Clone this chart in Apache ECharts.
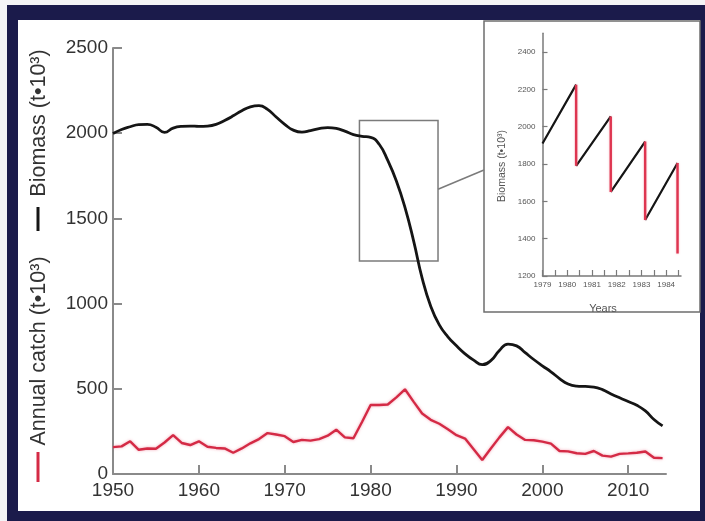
<!DOCTYPE html>
<html><head><meta charset="utf-8">
<script src="https://cdn.jsdelivr.net/npm/echarts@6/dist/echarts.min.js"></script>
<style>html,body{margin:0;padding:0;background:#fff}#c{width:705px;height:521px}</style>
</head><body><div id="c"></div>
<script>
// ---- data ----
const years = [1950,1951,1952,1953,1954,1955,1956,1957,1958,1959,1960,1961,1962,1963,1964,1965,1966,1967,1968,1969,1970,1971,1972,1973,1974,1975,1976,1977,1978,1979,1980,1981,1982,1983,1984,1985,1986,1987,1988,1989,1990,1991,1992,1993,1994,1995,1996,1997,1998,1999,2000,2001,2002,2003,2004,2005,2006,2007,2008,2009,2010,2011,2012,2013,2014];
const biomass = [1998,2022,2038,2050,2052,2035,2005,2030,2040,2042,2040,2042,2052,2075,2102,2132,2155,2162,2140,2095,2052,2018,2006,2015,2027,2033,2028,2012,1992,1982,1976,1935,1840,1720,1565,1370,1150,985,875,805,752,705,668,642,665,725,762,752,712,672,635,600,560,528,516,514,510,495,470,447,425,403,370,320,282];
const annualCatch = [158,162,192,142,150,148,185,228,182,170,192,160,153,150,125,150,180,205,240,232,222,188,200,196,205,225,260,215,210,305,405,405,408,450,497,425,355,318,295,262,228,208,145,82,150,215,275,232,200,198,190,178,135,133,122,118,135,108,102,118,121,125,132,95,93];
const xTickLabels = [1950,1960,1970,1980,1990,2000,2010];
const yTickLabels = [0,500,1000,1500,2000,2500];
// zoom box on main chart (data units) and connector
const zoomBoxX = [1978.7, 1987.85];
const zoomBoxY = [1250, 2075];
const connector = [[1987.85, 1671], [1993.2, 1784]];
// inset (seasonal sawtooth)
const insetStart = [1979, 1910];
const insetDropYears = [1980.36, 1981.76, 1983.15, 1984.46];
const insetPeaks = [2225, 2055, 1920, 1805];
const insetTroughs = [1790, 1650, 1500, 1320];
const insetXLabels = [1979,1980,1981,1982,1983,1984];
const insetXTicks = [1979,1979.5,1980,1980.5,1981,1981.5,1982,1982.5,1983,1983.5,1984,1984.5];
const insetYLabels = [1200,1400,1600,1800,2000,2200,2400];

// ---- build ----
const bioData = years.map((y,i)=>[y, biomass[i]]);
const catchData = years.map((y,i)=>[y, annualCatch[i]]);
const insetBlack = [];
const insetRed = [];
let prev = insetStart;
insetDropYears.forEach((x,i)=>{
  insetBlack.push([prev[0], prev[1]], [x, insetPeaks[i]], [x, '-']);
  insetRed.push([x, insetPeaks[i]], [x, insetTroughs[i]], [x, '-']);
  prev = [x, insetTroughs[i]];
});

const FONT = 'Liberation Sans';
const axisGray = '#8a8a8a';
const navy = '#1b1b4b';
const plain = v => String(v);
const chart = echarts.init(document.getElementById('c'), null, {renderer:'canvas'});
chart.setOption({
  backgroundColor: '#f4f4f6',
  animation: false,
  grid: [
    {left: 113, top: 48, width: 553, height: 426},
    {left: 542.5, top: 33.3, width: 138.5, height: 242.7}
  ],
  xAxis: [
    {type:'value', gridIndex:0, min:1950, max:2014.4,
     axisLine:{show:true, onZero:false, lineStyle:{color:axisGray, width:2}},
     axisTick:{show:true, inside:true, length:9, customValues:xTickLabels, lineStyle:{color:axisGray, width:2}},
     axisLabel:{show:true, customValues:xTickLabels, formatter:plain, margin:7, fontSize:19, fontFamily:FONT, color:'#333'},
     splitLine:{show:false}},
    {type:'value', gridIndex:1, min:1979, max:1984.6,
     axisLine:{show:true, onZero:false, lineStyle:{color:'#7a7a7a', width:1.5}},
     axisTick:{show:true, inside:true, length:6, customValues:insetXTicks, lineStyle:{color:'#7a7a7a', width:1.2}},
     axisLabel:{show:true, customValues:insetXLabels, formatter:plain, margin:5, fontSize:8, fontFamily:FONT, color:'#555'},
     splitLine:{show:false}}
  ],
  yAxis: [
    {type:'value', gridIndex:0, min:0, max:2500,
     axisLine:{show:true, onZero:false, lineStyle:{color:axisGray, width:2}},
     axisTick:{show:true, inside:true, length:9, customValues:yTickLabels, lineStyle:{color:axisGray, width:2}},
     axisLabel:{show:true, customValues:yTickLabels, formatter:plain, margin:5, fontSize:19, fontFamily:FONT, color:'#333'},
     splitLine:{show:false}},
    {type:'value', gridIndex:1, min:1200, max:2500,
     axisLine:{show:true, onZero:false, lineStyle:{color:'#7a7a7a', width:1.5}},
     axisTick:{show:true, inside:true, length:5, customValues:insetYLabels, lineStyle:{color:'#7a7a7a', width:1.2}},
     axisLabel:{show:true, customValues:insetYLabels, formatter:plain, margin:7, fontSize:8, fontFamily:FONT, color:'#555'},
     splitLine:{show:false}}
  ],
  series: [
    {type:'line', xAxisIndex:0, yAxisIndex:0, data:bioData, smooth:0.5, showSymbol:false, z:4,
     lineStyle:{color:'#151515', width:2.8},
     markArea:{silent:true, itemStyle:{color:'rgba(0,0,0,0)', borderColor:'#7b7b7b', borderWidth:1.5},
       data:[[{coord:[zoomBoxX[0], zoomBoxY[1]]},{coord:[zoomBoxX[1], zoomBoxY[0]]}]]},
     markLine:{silent:true, symbol:['none','none'], label:{show:false},
       lineStyle:{color:'#7b7b7b', width:1.5, type:'solid'},
       data:[[{coord:connector[0]},{coord:connector[1]}]]}
    },
    {type:'line', xAxisIndex:0, yAxisIndex:0, data:catchData, showSymbol:false, z:3,
     lineStyle:{color:'#d42a45', width:2.4, shadowColor:'rgba(235,110,135,0.6)', shadowBlur:3}},
    {type:'line', xAxisIndex:1, yAxisIndex:1, data:insetBlack, showSymbol:false, connectNulls:false,
     lineStyle:{color:'#151515', width:2.2}},
    {type:'line', xAxisIndex:1, yAxisIndex:1, data:insetRed, showSymbol:false, connectNulls:false,
     lineStyle:{color:'#de3550', width:2.4, shadowColor:'rgba(240,120,140,0.6)', shadowBlur:2}}
  ],
  graphic: [
    {type:'rect', z:-20, shape:{x:7, y:5, width:698, height:516}, style:{fill:navy}},
    {type:'rect', z:-19, shape:{x:18, y:20, width:682, height:491}, style:{fill:'#ffffff'}},
    {type:'rect', z:-5, shape:{x:484, y:21, width:216, height:291}, style:{fill:'#ffffff', stroke:'#6e6e6e', lineWidth:1.5}},
    {type:'text', z:5, x:39, y:123, rotation:Math.PI/2,
     style:{text:'Biomass (t•10³)', fontSize:21.5, fontFamily:FONT, fill:'#333', align:'center', verticalAlign:'middle'}},
    {type:'text', z:5, x:39, y:351, rotation:Math.PI/2,
     style:{text:'Annual catch (t•10³)', fontSize:21.5, fontFamily:FONT, fill:'#333', align:'center', verticalAlign:'middle'}},
    {type:'line', z:5, shape:{x1:38, y1:207, x2:38, y2:231}, style:{stroke:'#151515', lineWidth:3}},
    {type:'line', z:5, shape:{x1:38, y1:452, x2:38, y2:482}, style:{stroke:'#d42a45', lineWidth:3}},
    {type:'text', z:5, x:502, y:166, rotation:Math.PI/2,
     style:{text:'Biomass (t•10³)', fontSize:10.5, fontFamily:FONT, fill:'#555', align:'center', verticalAlign:'middle'}},
    {type:'text', z:5, x:603, y:309,
     style:{text:'Years', fontSize:11, fontFamily:FONT, fill:'#555', align:'center', verticalAlign:'middle'}}
  ]
});
</script></body></html>
